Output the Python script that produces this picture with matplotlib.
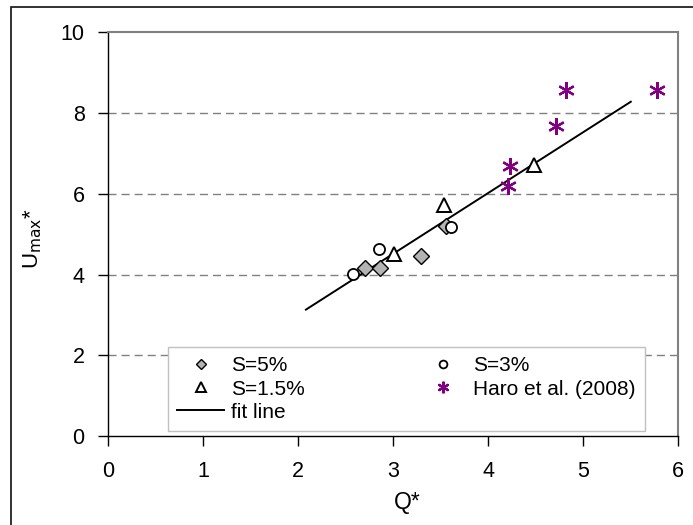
import matplotlib
matplotlib.use("Agg")
import matplotlib.pyplot as plt
from matplotlib.patches import Rectangle

plt.rcParams['font.family'] = ['Liberation Sans', 'DejaVu Sans']

# Measured data
s5_q = [2.70, 2.86, 3.29, 3.55]
s5_u = [4.17, 4.17, 4.46, 5.21]

s3_q = [2.58, 2.85, 3.61]
s3_u = [4.01, 4.64, 5.18]

s15_q = [3.01, 3.53, 4.48]
s15_u = [4.50, 5.73, 6.72]

haro_q = [4.21, 4.23, 4.71, 4.82, 5.78]
haro_u = [6.19, 6.68, 7.68, 8.58, 8.58]

fit_q = [2.08, 5.50]
fit_u = [3.13, 8.28]

x_ticks = [0, 1, 2, 3, 4, 5, 6]
y_ticks = [0, 2, 4, 6, 8, 10]

W, H = 693, 525
AX_L, AX_R, AX_B, AX_T = 108.3, 678.3, 436.0, 32.3
AX_W, AX_H = AX_R - AX_L, AX_B - AX_T

fig = plt.figure(figsize=(W / 100, H / 100), dpi=100)
ax = fig.add_axes([AX_L / W, 1 - AX_B / H, AX_W / W, AX_H / H])

# outer frame of the figure
fig.patches.append(Rectangle((11 / W, -0.5), 2, (H - 7) / H + 0.5,
                             transform=fig.transFigure, fill=False,
                             edgecolor='#222222', linewidth=1.3, zorder=-1))

for y in y_ticks[1:-1]:
    ax.axhline(y, color='#808080', linewidth=1.0, linestyle=(0, (5.8, 3.6)), zorder=1)

ax.plot(fit_q, fit_u, color='black', linewidth=1.4, label='fit line', zorder=2)
ax.plot(s5_q, s5_u, linestyle='none', marker='D', ms=8, mfc='#b3b3b3', mec='black',
        mew=1.0, label='S=5%', zorder=3)
ax.plot(s3_q, s3_u, linestyle='none', marker='o', ms=8, mfc='white', mec='black',
        mew=1.3, label='S=3%', zorder=3)
ax.plot(s15_q, s15_u, linestyle='none', marker='^', ms=10, mfc='white', mec='black',
        mew=1.4, label='S=1.5%', zorder=3)
ax.plot(haro_q, haro_u, linestyle='none', marker=(6, 2, 0), ms=12, mec='#800080',
        mew=1.6, label='Haro et al. (2008)', zorder=3)

ax.set_xlim(0, 6)
ax.set_ylim(0, 10)
ax.set_xticks(x_ticks)
ax.set_yticks(y_ticks)
ax.tick_params(direction='out', length=7, width=1, labelsize=15.5)
ax.tick_params(axis='x', pad=11)
ax.tick_params(axis='y', pad=10)

for side in ('left', 'bottom'):
    ax.spines[side].set_color('black')
    ax.spines[side].set_linewidth(1.0)
for side in ('top', 'right'):
    ax.spines[side].set_color('#808080')
    ax.spines[side].set_linewidth(1.5)

ax.set_xlabel('Q*', fontsize=16.5, va='center')
ax.xaxis.set_label_coords((407.5 - AX_L) / AX_W, -(502 - AX_B) / AX_H)
ax.set_ylabel(r'U$_{\mathrm{max}}$*', fontsize=16, va='center')
ax.yaxis.set_label_coords((33 - AX_L) / AX_W, (AX_B - 238) / AX_H)

handles, labels = ax.get_legend_handles_labels()
order = ['S=5%', 'S=1.5%', 'fit line', 'S=3%', 'Haro et al. (2008)']
hmap = dict(zip(labels, handles))
leg = ax.legend([hmap[k] for k in order], order, ncol=2, fontsize=15,
                loc='upper left',
                bbox_to_anchor=((168 - AX_L) / AX_W, (AX_B - 347) / AX_H),
                fancybox=False, framealpha=1, edgecolor='#c0c0c0',
                borderpad=0.45, labelspacing=0.2, handlelength=2.26, handletextpad=0.32,
                columnspacing=5.5, markerscale=0.7, borderaxespad=0)
leg.get_frame().set_linewidth(1.0)

fig.savefig('out.png', dpi=100)
